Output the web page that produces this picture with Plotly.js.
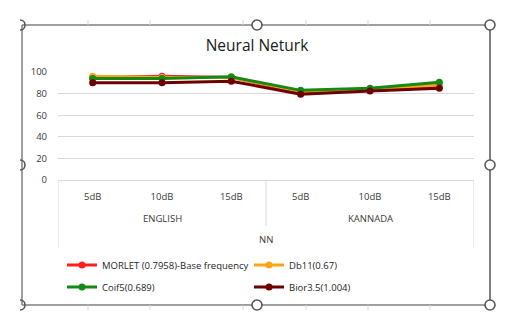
<!DOCTYPE html>
<html>
<head>
<meta charset="utf-8">
<script src="https://cdn.plot.ly/plotly-3.0.1.min.js"></script>
<style>
html,body{margin:0;padding:0;background:#fff;}
#chart{width:514px;height:322px;}
</style>
</head>
<body>
<div id="chart"></div>
<script>
// ---- data ----
const languages = ["ENGLISH", "KANNADA"];
const noiseLevels = ["5dB", "10dB", "15dB"];
const outerLabel = "NN";
const seriesNames = ["MORLET (0.7958)-Base frequency", "Db11(0.67)", "Coif5(0.689)", "Bior3.5(1.004)"];
const morlet = [95, 96, 95, 81, 83, 87];
const db11   = [96, 95, 95, 82, 84, 88];
const coif5  = [94, 94, 95.5, 83, 85, 90.5];
const bior35 = [90, 90, 91.5, 79.5, 82.5, 85];
const yTicks = [0, 20, 40, 60, 80, 100];
const chartTitle = "Neural Neturk";

// ---- build ----
const tickText = [];
languages.forEach(() => noiseLevels.forEach(n => tickText.push(n)));
const xIdx = tickText.map((_, i) => i);
const colors = ["#ff1f1f", "#ffa319", "#138a13", "#6e0000"];
const allSeries = [morlet, db11, coif5, bior35];
const legendOf = ["legend", "legend", "legend2", "legend2"];

const traces = allSeries.map((vals, k) => ({
  x: xIdx, y: vals, name: seriesNames[k], type: "scatter", mode: "lines+markers",
  line: {color: colors[k], width: 3},
  marker: {color: colors[k], size: 7},
  cliponaxis: false, legend: legendOf[k]
}));

// pixel helpers (plot area: x 58..474, y 72..180)
const L = 58, R = 474, T = 72, B = 180;
const px = v => (v - L) / (R - L);
const py = v => (B - v) / (B - T);

const fontFam = "Open Sans, sans-serif";
const txtCol = "#3a3a3a";

const annotations = [];
languages.forEach((lang, g) => {
  annotations.push({
    x: g * noiseLevels.length + (noiseLevels.length - 1) / 2, xref: "x",
    y: py(218), yref: "paper", yanchor: "middle", text: lang, showarrow: false,
    font: {family: fontFam, size: 9.5, color: txtCol}
  });
});
annotations.push({
  x: (tickText.length - 1) / 2, xref: "x", y: py(239.5), yref: "paper", yanchor: "middle",
  text: outerLabel, showarrow: false, font: {family: fontFam, size: 9.5, color: txtCol}
});

const shapes = [];
const divCol = "#d9d9d9";
// dividers
shapes.push({type: "line", xref: "x", yref: "paper", x0: -0.5, x1: -0.5, y0: 0, y1: py(248), line: {color: divCol, width: 1}});
shapes.push({type: "line", xref: "x", yref: "paper", x0: tickText.length - 0.5, x1: tickText.length - 0.5, y0: 0, y1: py(248), line: {color: divCol, width: 1}});
for (let g = 1; g < languages.length; g++) {
  const xd = g * noiseLevels.length - 0.5;
  shapes.push({type: "line", xref: "x", yref: "paper", x0: xd, x1: xd, y0: 0, y1: py(226), line: {color: divCol, width: 1}});
}
// frame
const frameCol = "#7f7f7f";
const FL = 22, FR = 490, FT = 25, FB = 305;
shapes.push({type: "line", xref: "paper", yref: "paper", x0: px(FL), x1: px(FR), y0: py(FT), y1: py(FT), line: {color: frameCol, width: 1.5}});
shapes.push({type: "line", xref: "paper", yref: "paper", x0: px(FL), x1: px(FR), y0: py(FB), y1: py(FB), line: {color: frameCol, width: 1.5}});
shapes.push({type: "line", xref: "paper", yref: "paper", x0: px(FL), x1: px(FL), y0: py(FT), y1: py(FB), line: {color: frameCol, width: 1.5}});
shapes.push({type: "line", xref: "paper", yref: "paper", x0: px(FR), x1: px(FR), y0: py(FT), y1: py(FB), line: {color: frameCol, width: 2}});
// sheet ticks
[88, 150, 243, 306, 368, 430].forEach(xx => {
  shapes.push({type: "line", xref: "paper", yref: "paper", x0: px(xx), x1: px(xx), y0: py(20), y1: py(FT), line: {color: "#d6d6d6", width: 1}});
  shapes.push({type: "line", xref: "paper", yref: "paper", x0: px(xx), x1: px(xx), y0: py(FB), y1: py(310), line: {color: "#d6d6d6", width: 1}});
});
// handles
const r = 5;
const handleFull = [[257, FT], [FR, FT], [FR, 165], [257, FB], [FR, FB]];
handleFull.forEach(([cx, cy]) => {
  shapes.push({type: "circle", xref: "paper", yref: "paper",
    x0: px(cx - r), x1: px(cx + r), y0: py(cy + r), y1: py(cy - r),
    fillcolor: "#ffffff", line: {color: "#595959", width: 1.6}});
});
// half handles on left edge (right half visible)
[[FL - 2, FT], [FL - 2, 165], [FL - 2, FB]].forEach(([cx, cy]) => {
  const k = r * 4 / 3;
  const path = `M ${px(cx)} ${py(cy - r)} C ${px(cx + k)} ${py(cy - r)} ${px(cx + k)} ${py(cy + r)} ${px(cx)} ${py(cy + r)}`;
  shapes.push({type: "path", xref: "paper", yref: "paper", path: path, line: {color: "#595959", width: 1.6}});
});

const legendBase = {
  orientation: "h", xanchor: "left", yanchor: "middle",
  entrywidth: 142, entrywidthmode: "pixels", traceorder: "normal",
  font: {family: fontFam, size: 9.5, color: "#262626"}, bgcolor: "rgba(0,0,0,0)", borderwidth: 0
};

const layout = {
  width: 514, height: 322,
  margin: {l: L, r: 514 - R, t: T, b: 322 - B, pad: 0, autoexpand: false},
  paper_bgcolor: "#ffffff", plot_bgcolor: "#ffffff",
  showlegend: true,
  title: {text: chartTitle, x: 0.5, xanchor: "center", y: 1 - 46 / 322, yanchor: "middle",
    font: {family: fontFam, size: 15.5, color: "#1a1a1a"}},
  xaxis: {
    range: [-0.5, tickText.length - 0.5], tickmode: "array", tickvals: xIdx, ticktext: tickText,
    showgrid: false, zeroline: false, showline: true, linecolor: divCol, linewidth: 1,
    ticks: "", ticklabelstandoff: 8, tickfont: {family: fontFam, size: 9.5, color: txtCol}, fixedrange: true
  },
  yaxis: {
    range: [0, 100], tickmode: "array", tickvals: yTicks, showgrid: true, gridcolor: divCol, gridwidth: 1,
    zeroline: false, showline: false, ticks: "", ticklabelstandoff: 10,
    tickfont: {family: fontFam, size: 9.5, color: txtCol}, fixedrange: true
  },
  legend: Object.assign({}, legendBase, {x: px(62), y: py(265)}),
  legend2: Object.assign({}, legendBase, {x: px(62), y: py(287)}),
  annotations: annotations,
  shapes: shapes
};

Plotly.newPlot("chart", traces, layout, {displayModeBar: false, staticPlot: true});
</script>
</body>
</html>
